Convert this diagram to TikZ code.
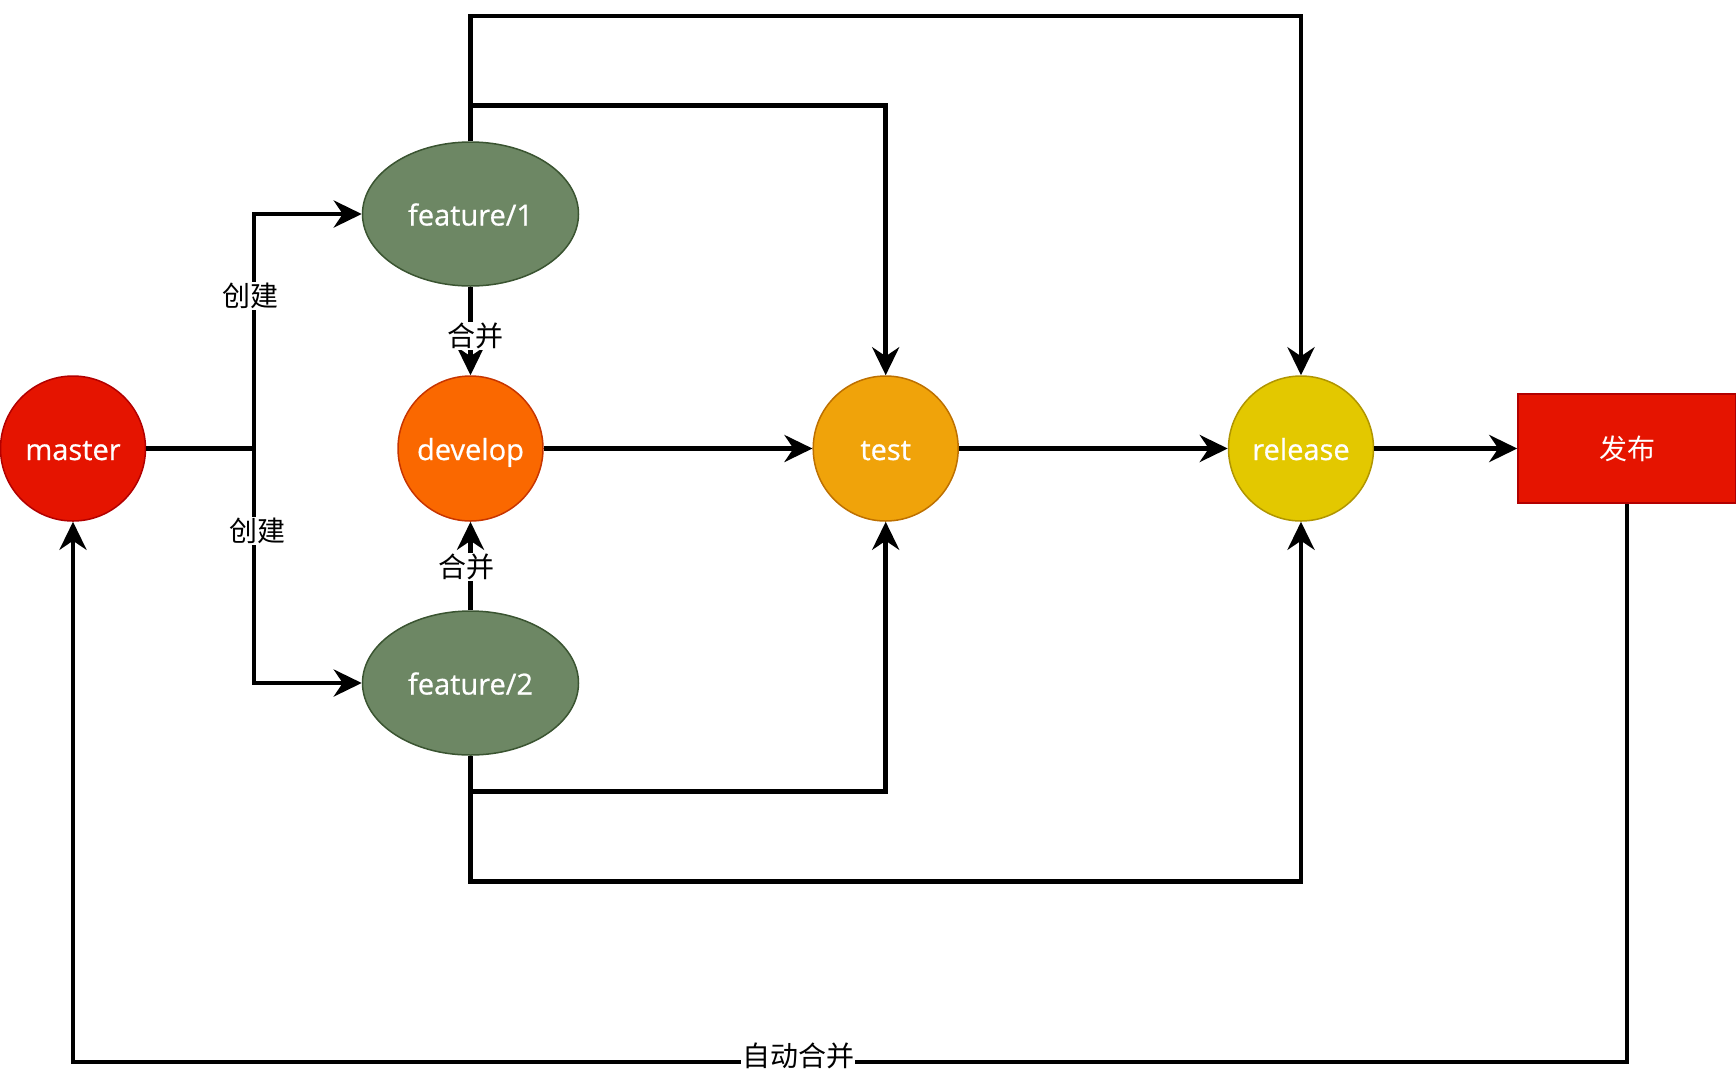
\documentclass[tikz,border=0pt]{standalone}
\usepackage{fontspec}
\setmainfont{Open Sans}
\newfontfamily\nodefont[FakeBold=0.6]{Open Sans}
\newfontfamily\cjk{Noto Sans CJK SC}
\usetikzlibrary{arrows.meta,shapes.geometric}
\definecolor{mred}{HTML}{E51400}
\definecolor{mredd}{HTML}{B20000}
\definecolor{morange}{HTML}{FA6800}
\definecolor{moranged}{HTML}{C73500}
\definecolor{mamber}{HTML}{F0A30A}
\definecolor{mamberd}{HTML}{BD7000}
\definecolor{myellow}{HTML}{E3C800}
\definecolor{myellowd}{HTML}{B09500}
\definecolor{mgreen}{HTML}{6D8764}
\definecolor{mgreend}{HTML}{3A5431}
\begin{document}
\begin{tikzpicture}[x=1pt,y=-1pt,
  nodetext/.style={text=white,font=\nodefont\fontsize{29}{34}\selectfont,text height=25pt,text depth=2pt},
  branch/.style={circle,minimum size=145pt,inner sep=0pt,line width=1.5pt,nodetext},
  feat/.style={ellipse,minimum width=216pt,minimum height=144pt,inner sep=0pt,line width=1.5pt,fill=mgreen,draw=mgreend,nodetext},
  pubbox/.style={rectangle,minimum width=218pt,minimum height=109pt,inner sep=0pt,line width=1.5pt,fill=mred,draw=mredd,text=white,font=\cjk\fontsize{28}{34}\selectfont},
  conn/.style={line width=4.5pt,draw=black},
  arr/.style={conn,-{Stealth[length=28pt,width=27pt,inset=9pt]}},
  lbl/.style={fill=white,inner sep=1pt,font=\cjk\fontsize{28}{34}\selectfont}]
\useasboundingbox (0,0) rectangle (1736,1080);

\node[branch,fill=mred,draw=mredd] (master) at (73,448.5) {master};
\node[branch,fill=morange,draw=moranged] (dev) at (470.5,448.5) {develop};
\node[branch,fill=mamber,draw=mamberd] (test) at (885.7,448.5) {test};
\node[branch,fill=myellow,draw=myellowd] (rel) at (1301,448.5) {release};
\node[pubbox] (pub) at (1627,448.5) {发布};
\node[feat] (f1) at (470.5,214) {feature/1};
\node[feat] (f2) at (470.5,683) {feature/2};

\coordinate (split) at (254,448.5);
\coordinate (t1) at (470.5,105.5);
\coordinate (t2) at (470.5,16);
\coordinate (b1) at (470.5,791.6);
\coordinate (b2) at (470.5,881.3);
\coordinate (b3) at (1627,1061.8);

\draw[conn] (master) -- (split);
\draw[arr] (split) |- (f1.west);
\draw[arr] (split) |- (f2.west);
\draw[arr] (f1.south) -- (dev.north);
\draw[arr] (f2.north) -- (dev.south);
\draw[arr] (dev) -- (test);
\draw[arr] (test) -- (rel);
\draw[arr] (rel) -- (pub);
\draw[arr] (f1.north) -- (t1) -| (test.north);
\draw[arr] (f1.north) -- (t2) -| (rel.north);
\draw[arr] (f2.south) -- (b1) -| (test.south);
\draw[arr] (f2.south) -- (b2) -| (rel.south);
\draw[arr] (pub.south) -- (b3) -| (master.south);

\node[lbl] (l1) at (250,296) {创建};
\node[lbl] (l2) at (257,531) {创建};
\node[lbl] (l3) at (475,336) {合并};
\node[lbl] (l4) at (466,567) {合并};
\node[lbl] (l5) at (798,1056) {自动合并};
\end{tikzpicture}
\end{document}
